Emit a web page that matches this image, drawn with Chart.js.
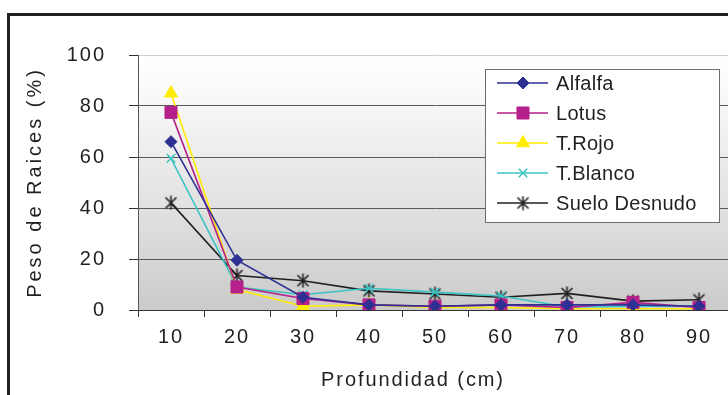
<!DOCTYPE html>
<html>
<head>
<meta charset="utf-8">
<script src="https://cdn.jsdelivr.net/npm/chart.js@4"></script>
<style>
  html, body { margin: 0; padding: 0; background: #fff; overflow: hidden; width: 728px; height: 395px; }
  #marco { position: absolute; left: 7px; top: 13px; width: 800px; height: 500px; border: 3px solid #231f20; }
  #grafico { position: absolute; left: 0; top: 0; }
</style>
</head>
<body>
<div id="marco"></div>
<canvas id="grafico" width="760" height="395"></canvas>
<script>

// datos
var profundidad = ["10", "20", "30", "40", "50", "60", "70", "80", "90"];
var alfalfa     = [66, 19.5, 5, 2, 1.5, 2, 2, 2, 1.5];
var lotus       = [77.5, 9, 4.5, 2, 1.5, 2, 1, 3, 1];
var tRojo       = [85, 8, 1.5, 2, 1, 1, 0.5, 0.5, 0.5];
var tBlanco     = [59.5, 9, 6, 8.5, 7, 5.5, 1.2, 1.5, 1.5];
var sueloDesnudo = [42, 13.5, 11.5, 7.5, 6.3, 5, 6.5, 3.5, 4];
var ticksY      = [0, 20, 40, 60, 80, 100];

var tituloX = 'Profundidad (cm)';
var tituloY = 'Peso de Raices (%)';
var familia = '"Liberation Sans", Arial, sans-serif';

// marcador asterisco (x + linea vertical) como en Excel
function crearAsterisco(){
	var c = document.createElement('canvas');
	c.width = 15; c.height = 15;
	var g = c.getContext('2d');
	g.strokeStyle = '#231f20';
	g.lineWidth = 1.6;
	g.beginPath();
	g.moveTo(2, 2); g.lineTo(13, 13);
	g.moveTo(13, 2); g.lineTo(2, 13);
	g.moveTo(7.5, 0.5); g.lineTo(7.5, 14.5);
	g.stroke();
	return c;
}
var asterisco = crearAsterisco();

function serie(label, valores, color, estilo, radio){
	return {
		label: label,
		data: valores,
		borderColor: color,
		backgroundColor: color,
		pointBackgroundColor: color,
		pointBorderColor: color,
		pointBorderWidth: (estilo === 'crossRot') ? 1.6 : 1,
		borderWidth: 1.6,
		pointStyle: estilo,
		pointRadius: radio,
		pointHoverRadius: radio,
		tension: 0,
		fill: false
	};
}

var fondo = {
	id: 'fondo',
	beforeDraw: function(chart){
		var a = chart.chartArea, ctx = chart.ctx;
		var grad = ctx.createLinearGradient(0, a.top, 0, a.bottom);
		grad.addColorStop(0, '#ffffff');
		grad.addColorStop(0.12, '#fbfbfb');
		grad.addColorStop(1, '#cbcbcb');
		ctx.fillStyle = grad;
		ctx.fillRect(a.left, a.top, a.right - a.left, a.bottom - a.top);
		// espaciado de letras para las etiquetas de los ejes
		ctx.letterSpacing = '2px';
	}
};

var leyenda = {
	id: 'leyenda',
	afterDraw: function(chart){
		var ctx = chart.ctx;
		var x0 = 485, y0 = 69, w = 234, h = 153;
		ctx.save();
		ctx.fillStyle = '#ffffff';
		ctx.fillRect(x0, y0, w, h);
		ctx.strokeStyle = '#6d6d6d';
		ctx.lineWidth = 1;
		ctx.strokeRect(x0 + 0.5, y0 + 0.5, w, h);
		ctx.letterSpacing = '0.3px';
		chart.data.datasets.forEach(function(ds, i){
			var y = y0 + 14 + i * 30;
			ctx.strokeStyle = ds.borderColor;
			ctx.lineWidth = 1.6;
			ctx.beginPath();
			ctx.moveTo(497, y); ctx.lineTo(548, y);
			ctx.stroke();
			ctx.fillStyle = ds.backgroundColor;
			ctx.lineWidth = ds.pointBorderWidth;
			Chart.helpers.drawPoint(ctx, {pointStyle: ds.pointStyle, radius: ds.pointRadius, rotation: 0, borderWidth: ds.pointBorderWidth}, 523, y);
			ctx.fillStyle = '#231f20';
			ctx.font = '20px ' + familia;
			ctx.textBaseline = 'middle';
			ctx.fillText(ds.label, 556, y + 1);
		});

		var a = chart.chartArea;
		ctx.fillStyle = '#231f20';
		ctx.font = '20px ' + familia;
		ctx.textAlign = 'center';
		ctx.textBaseline = 'middle';
		// titulo del eje x
		ctx.letterSpacing = '1.9px';
		ctx.fillText(tituloX, (a.left + a.right) / 2 - 22, 380);
		// titulo del eje y
		ctx.letterSpacing = '3px';
		ctx.translate(35, (a.top + a.bottom) / 2);
		ctx.rotate(-Math.PI / 2);
		ctx.fillText(tituloY, 0, 0);
		ctx.restore();
		ctx.letterSpacing = '0px';
	}
};

function exibirGrafico(){

	var data = {
		labels: profundidad,
		datasets: [
			serie('Alfalfa', alfalfa, '#2e3192', 'rectRot', 6),
			serie('Lotus', lotus, '#b5208a', 'rect', 8.5),
			serie('T.Rojo', tRojo, '#ffec00', 'triangle', 7.5),
			serie('T.Blanco', tBlanco, '#3cc3c3', 'crossRot', 6),
			serie('Suelo Desnudo', sueloDesnudo, '#231f20', asterisco, 7)
		]
	};

	var fuente = { family: familia, size: 20 };

	var options = {
		responsive: false,
		animation: false,
		layout: { padding: { top: 55, right: 28, left: 0, bottom: 0 } },
		plugins: {
			legend: { display: false },
			tooltip: { enabled: false }
		},
		scales: {
			x: {
				type: 'category',
				offset: true,
				afterFit: function(s){ s.height = 85; },
				grid: { offset: true, drawOnChartArea: false, drawTicks: true, tickLength: 7, color: '#333333', tickColor: '#333333' },
				border: { display: true, color: '#333333', width: 1 },
				ticks: { font: fuente, color: '#231f20', padding: 8, maxRotation: 0 }
			},
			y: {
				min: 0,
				max: 100,
				afterFit: function(s){ s.width = 138; },
				afterBuildTicks: function(s){ s.ticks = ticksY.map(function(v){ return { value: v }; }); },
				grid: {
					tickLength: 9,
					color: function(c){ return (c.tick && c.tick.value === 100) ? '#cfcfcf' : '#5a5a5a'; },
					tickColor: '#333333',
					lineWidth: 1
				},
				border: { display: true, color: '#555555', width: 1 },
				ticks: { font: fuente, color: '#231f20', padding: 23 }
			}
		}
	};

	var ctx = document.getElementById("grafico").getContext("2d");
	new Chart(ctx, { type: 'line', data: data, options: options, plugins: [fondo, leyenda] });
}

exibirGrafico();
</script>
</body>
</html>
